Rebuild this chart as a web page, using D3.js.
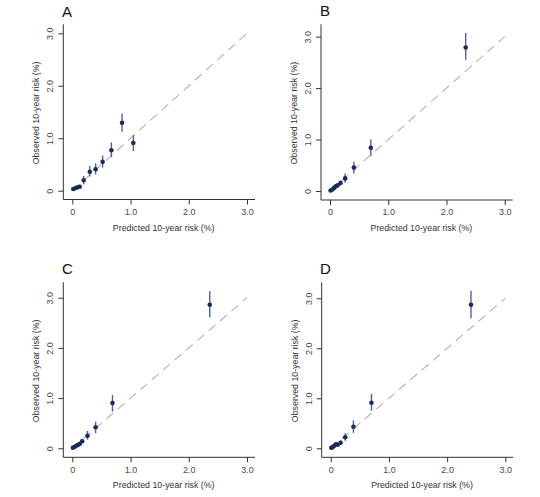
<!DOCTYPE html>
<html>
<head>
<meta charset="utf-8">
<script src="https://cdn.jsdelivr.net/npm/d3@7"></script>
<style>
  html, body { margin: 0; padding: 0; background: #ffffff; }
  svg { display: block; }
</style>
</head>
<body>
<div id="chart"></div>
<script>
// ---------- data ----------
const panelLabels = ["A", "B", "C", "D"];
const xTicks = [0, 1, 2, 3];
const yTicks = [0, 1, 2, 3];
const xTickLabels = ["0", "1.0", "2.0", "3.0"];
const yTickLabels = ["0", "1.0", "2.0", "3.0"];
const xTitle = "Predicted 10-year risk (%)";
const yTitle = "Observed 10-year risk (%)";

const predA = [0.017, 0.058, 0.093, 0.127, 0.195, 0.30, 0.40, 0.52, 0.67, 0.854, 1.048];
const obsA  = [0.032, 0.050, 0.065, 0.076, 0.198, 0.36, 0.41, 0.55, 0.77, 1.296, 0.91];
const lowA  = [0.020, 0.035, 0.050, 0.060, 0.12, 0.27, 0.31, 0.44, 0.64, 1.125, 0.756];
const highA = [0.045, 0.065, 0.080, 0.095, 0.28, 0.47, 0.52, 0.67, 0.92, 1.47, 1.06];

const predB = [0.01, 0.04, 0.07, 0.10, 0.13, 0.18, 0.26, 0.41, 0.70, 2.33];
const obsB  = [0.01, 0.03, 0.06, 0.09, 0.11, 0.155, 0.245, 0.455, 0.84, 2.79];
const lowB  = [0.00, 0.01, 0.04, 0.06, 0.08, 0.11, 0.16, 0.34, 0.68, 2.55];
const highB = [0.02, 0.05, 0.08, 0.12, 0.14, 0.20, 0.34, 0.57, 1.00, 3.07];

const predC = [0.01, 0.04, 0.07, 0.10, 0.13, 0.17, 0.26, 0.40, 0.69, 2.36];
const obsC  = [0.01, 0.03, 0.05, 0.07, 0.09, 0.14, 0.25, 0.42, 0.90, 2.86];
const lowC  = [0.00, 0.01, 0.03, 0.05, 0.06, 0.10, 0.17, 0.30, 0.73, 2.61];
const highC = [0.02, 0.05, 0.07, 0.09, 0.12, 0.19, 0.345, 0.53, 1.06, 3.13];

const predD = [0.01, 0.03, 0.06, 0.09, 0.12, 0.17, 0.25, 0.39, 0.70, 2.41];
const obsD  = [0.01, 0.02, 0.05, 0.08, 0.07, 0.11, 0.22, 0.43, 0.91, 2.87];
const lowD  = [0.00, 0.00, 0.03, 0.06, 0.05, 0.07, 0.15, 0.31, 0.75, 2.60];
const highD = [0.02, 0.04, 0.07, 0.10, 0.09, 0.16, 0.30, 0.56, 1.09, 3.15];

const diagonal = [0, 3];

const seriesList = [
  {pred: predA, obs: obsA, low: lowA, high: highA},
  {pred: predB, obs: obsB, low: lowB, high: highB},
  {pred: predC, obs: obsC, low: lowC, high: highC},
  {pred: predD, obs: obsD, low: lowD, high: highD}
];

// ---------- layout ----------
const W = 540, H = 497;
const layouts = [
  {x0: 63.3,  x1: 255.0, y0: 24.3,  y1: 199.5, xd: [-0.155, 3.137], yd: [-0.168, 3.172], lx: 62,  ly: 17},
  {x0: 321.0, x1: 512.7, y0: 24.3,  y1: 200.0, xd: [-0.155, 3.137], yd: [-0.175, 3.24],  lx: 320, ly: 16},
  {x0: 63.3,  x1: 255.0, y0: 282.3, y1: 457.3, xd: [-0.155, 3.137], yd: [-0.18, 3.307],  lx: 62,  ly: 274},
  {x0: 321.7, x1: 513.3, y0: 282.3, y1: 457.3, xd: [-0.155, 3.137], yd: [-0.18, 3.32],   lx: 320, ly: 274}
];

const svg = d3.select("#chart").append("svg")
  .attr("width", W).attr("height", H)
  .style("font-family", "'Liberation Sans', Arial, sans-serif");

const axisColor = "#333333";
const tickTextColor = "#4a4a4a";
const pointColor = "#1c2a58";
const ciColor = "#55648c";

layouts.forEach((L, i) => {
  const s = seriesList[i];
  const x = d3.scaleLinear().domain(L.xd).range([L.x0, L.x1]);
  const y = d3.scaleLinear().domain(L.yd).range([L.y1, L.y0]);
  const g = svg.append("g");

  // diagonal reference line
  g.append("line")
    .attr("x1", x(diagonal[0])).attr("y1", y(diagonal[0]))
    .attr("x2", x(diagonal[1])).attr("y2", y(diagonal[1]))
    .attr("stroke", "#b3b3b3").attr("stroke-width", 1.1)
    .attr("stroke-dasharray", "9,6");

  // x axis
  const xAxis = g.append("g")
    .attr("transform", `translate(0,${L.y1})`)
    .call(d3.axisBottom(x).tickValues(xTicks).tickSize(5).tickSizeOuter(0)
      .tickFormat((d, k) => xTickLabels[k]));
  xAxis.select(".domain").attr("stroke", axisColor).attr("d", `M${L.x0},0H${L.x1}`);
  xAxis.selectAll(".tick line").attr("stroke", axisColor);
  xAxis.selectAll(".tick text")
    .attr("y", 9).attr("dy", "0.71em")
    .attr("fill", tickTextColor).style("font-size", "9px");

  // y axis
  const yAxis = g.append("g")
    .attr("transform", `translate(${L.x0},0)`)
    .call(d3.axisLeft(y).tickValues(yTicks).tickSize(5).tickSizeOuter(0)
      .tickFormat((d, k) => yTickLabels[k]));
  yAxis.select(".domain").attr("stroke", axisColor).attr("d", `M0,${L.y0}V${L.y1}`);
  yAxis.selectAll(".tick line").attr("stroke", axisColor);
  yAxis.selectAll(".tick text")
    .attr("x", null).attr("dy", null)
    .attr("text-anchor", "middle")
    .attr("transform", "translate(-10,0) rotate(-90)")
    .attr("fill", tickTextColor).style("font-size", "9px");

  // axis titles
  g.append("text")
    .attr("x", (x(0) + x(3)) / 2 + 4).attr("y", L.y1 + 31)
    .attr("text-anchor", "middle")
    .attr("fill", axisColor).style("font-size", "8.8px")
    .text(xTitle);
  g.append("text")
    .attr("transform", `translate(${L.x0 - 24},${(L.y0 + L.y1) / 2 + 1}) rotate(-90)`)
    .attr("text-anchor", "middle")
    .attr("fill", axisColor).style("font-size", "8.8px")
    .text(yTitle);

  // panel label
  g.append("text")
    .attr("x", L.lx).attr("y", L.ly)
    .attr("fill", "#111111").style("font-size", "15px")
    .text(panelLabels[i]);

  // CI bars
  g.selectAll("line.ci").data(s.pred).enter().append("line")
    .attr("class", "ci")
    .attr("x1", d => x(d)).attr("x2", d => x(d))
    .attr("y1", (d, k) => y(s.low[k])).attr("y2", (d, k) => y(s.high[k]))
    .attr("stroke", ciColor).attr("stroke-width", 1.4);

  // points
  g.selectAll("circle.pt").data(s.pred).enter().append("circle")
    .attr("class", "pt")
    .attr("cx", d => x(d)).attr("cy", (d, k) => y(s.obs[k]))
    .attr("r", 2.3)
    .attr("fill", pointColor);
});
</script>
</body>
</html>
